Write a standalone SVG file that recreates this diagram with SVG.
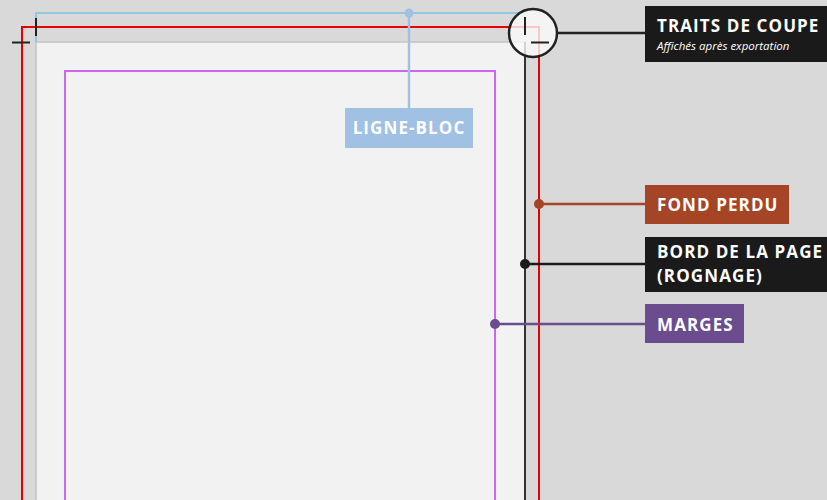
<svg xmlns="http://www.w3.org/2000/svg" width="827" height="500" viewBox="0 0 827 500">
<style>
.lbl{font-family:"Open Sans","DejaVu Sans",sans-serif;font-weight:700;font-size:17px;fill:#fff;letter-spacing:1.1px}
.sub{font-family:"Open Sans","DejaVu Sans",sans-serif;font-style:italic;font-size:11.5px;fill:#fff}
.conn{fill:none;stroke-width:2.5}
</style>
<rect width="827" height="500" fill="#d9d9d9"/>
<g id="page">
<rect x="36" y="42" width="489" height="470" fill="#f2f2f2" stroke="#c4c4c4" stroke-width="1.5"/>
<line x1="525" y1="42" x2="525" y2="500" stroke="#333" stroke-width="2"/>
</g>
<g id="bleed"><rect x="22" y="27" width="517" height="490" fill="none" stroke="#e60000" stroke-width="2"/></g>
<g id="margins"><rect x="65" y="71" width="430" height="440" fill="none" stroke="#cc66ee" stroke-width="2"/></g>
<g id="slug"><polyline points="36,42 36,13 525,13" fill="none" stroke="#7cc3e2" stroke-width="1.5"/></g>
<g id="cropmarks" stroke="#222" stroke-width="2">
<line x1="36" y1="18" x2="36" y2="36"/>
<line x1="12" y1="42.5" x2="30" y2="42.5"/>
</g>
<g id="loupe">
<circle cx="533" cy="33" r="24" fill="#fafafa" fill-opacity="0.8" stroke="#222" stroke-width="2.5"/>
<line x1="525" y1="17" x2="525" y2="35" stroke="#222" stroke-width="2"/>
<line x1="531" y1="42.5" x2="549" y2="42.5" stroke="#222" stroke-width="2"/>
</g>
<g id="connectors">
<line class="conn" x1="557" y1="33" x2="645" y2="33" stroke="#222"/>
<line class="conn" x1="409" y1="13" x2="409" y2="108" stroke="#a0c0e4"/>
<circle cx="409" cy="13" r="4.5" fill="#a0c0e4"/>
<line class="conn" x1="539" y1="204" x2="645" y2="204" stroke="#a64526"/>
<circle cx="539" cy="204" r="5" fill="#a64526"/>
<line class="conn" x1="525" y1="264" x2="645" y2="264" stroke="#1a1a1a"/>
<circle cx="525" cy="264" r="5" fill="#1a1a1a"/>
<line class="conn" x1="495" y1="324" x2="645" y2="324" stroke="#6a4c8f"/>
<circle cx="495" cy="324" r="5" fill="#6a4c8f"/>
</g>
<g id="traits">
<rect x="645" y="6" width="184" height="56" fill="#1a1a1a"/>
<text class="lbl" x="657" y="32">TRAITS DE COUPE</text>
<text class="sub" x="657" y="49.5">Affichés après exportation</text>
</g>
<g id="ligne-bloc">
<rect x="345" y="108" width="128" height="40" fill="#a0c0e4"/>
<text class="lbl" x="409" y="134" text-anchor="middle">LIGNE-BLOC</text>
</g>
<g id="fond-perdu">
<rect x="645" y="185" width="144" height="39" fill="#a64526"/>
<text class="lbl" x="657" y="211">FOND PERDU</text>
</g>
<g id="bord">
<rect x="645" y="237" width="184" height="55" fill="#1a1a1a"/>
<text class="lbl" x="657" y="258">BORD DE LA PAGE</text>
<text class="lbl" x="657" y="282">(ROGNAGE)</text>
</g>
<g id="marges">
<rect x="645" y="304" width="99" height="39" fill="#6a4c8f"/>
<text class="lbl" x="657" y="331">MARGES</text>
</g>
</svg>
